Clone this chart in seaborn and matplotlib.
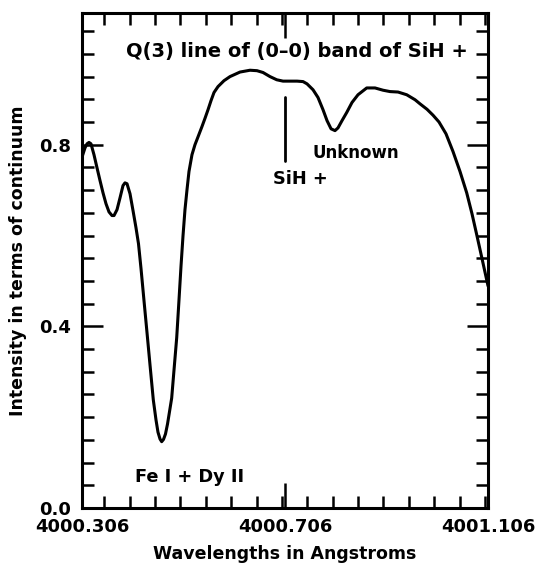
import numpy as np
import pandas as pd
import matplotlib
matplotlib.use('Agg')
import matplotlib.pyplot as plt
import seaborn as sns
from matplotlib.ticker import MultipleLocator

# spectrum (wavelength in Angstroms, intensity / continuum)
wavelength = [4000.3070, 4000.3119, 4000.3159, 4000.3198, 4000.3237, 4000.3296, 4000.3356,
              4000.3415, 4000.3474, 4000.3533, 4000.3592, 4000.3651, 4000.3691, 4000.3750,
              4000.3809, 4000.3868, 4000.3907, 4000.3947,
              4000.4006, 4000.4065, 4000.4124, 4000.4173, 4000.4223, 4000.4282, 4000.4341,
              4000.4400, 4000.4465, 4000.4518, 4000.4557, 4000.4597, 4000.4630, 4000.4666,
              4000.4705, 4000.4745, 4000.4784, 4000.4827, 4000.4873, 4000.4926, 4000.4971,
              4000.5011, 4000.5050, 4000.5089, 4000.5129, 4000.5168, 4000.5227, 4000.5286,
              4000.5345, 4000.5424, 4000.5483, 4000.5543, 4000.5602, 4000.5661, 4000.5740,
              4000.5858, 4000.5976, 4000.6173, 4000.6370, 4000.6508, 4000.6627, 4000.6764,
              4000.6897, 4000.7021, 4000.7159, 4000.7297, 4000.7415, 4000.7494, 4000.7612,
              4000.7710, 4000.7809, 4000.7888, 4000.7967, 4000.8045, 4000.8104, 4000.8183,
              4000.8276, 4000.8380, 4000.8498, 4000.8670, 4000.8833, 4000.8991, 4000.9129,
              4000.9287, 4000.9458, 4000.9622, 4000.9720, 4000.9858, 4000.9976, 4001.0094,
              4001.0232, 4001.0370, 4001.0508, 4001.0640, 4001.0744, 4001.0843, 4001.0942,
              4001.1060]
intensity = [0.776, 0.793, 0.802, 0.805, 0.802, 0.778, 0.749,
             0.721, 0.694, 0.670, 0.652, 0.644, 0.644, 0.657,
             0.683, 0.710, 0.716, 0.714,
             0.692, 0.655, 0.617, 0.582, 0.527, 0.456, 0.386,
             0.315, 0.238, 0.194, 0.167, 0.152, 0.146, 0.151,
             0.163, 0.185, 0.212, 0.242, 0.304, 0.375, 0.458,
             0.533, 0.599, 0.657, 0.701, 0.741, 0.778, 0.800,
             0.817, 0.840, 0.858, 0.877, 0.897, 0.915, 0.928,
             0.941, 0.950, 0.960, 0.964, 0.963, 0.959, 0.950,
             0.943, 0.940, 0.940, 0.940, 0.939, 0.934, 0.921,
             0.904, 0.877, 0.853, 0.835, 0.831, 0.837, 0.853,
             0.871, 0.893, 0.910, 0.925, 0.925, 0.920, 0.917,
             0.916, 0.910, 0.899, 0.890, 0.878, 0.865, 0.850,
             0.824, 0.785, 0.741, 0.694, 0.648, 0.599, 0.549,
             0.489]

x_ticks = [4000.306, 4000.706, 4001.106]
x_tick_labels = ['4000.306', '4000.706', '4001.106']
y_ticks = [0.0, 0.4, 0.8]
y_tick_labels = ['0.0', '0.4', '0.8']

# SiH+ marker line
sih_x = 4000.706
sih_y = [0.765, 0.905]

df = pd.DataFrame({'wl': wavelength, 'I': intensity})

sns.set_theme(style='ticks')
plt.rcParams['font.family'] = ['DejaVu Sans']
plt.rcParams['font.weight'] = 'bold'
plt.rcParams['text.color'] = 'black'
plt.rcParams['axes.labelcolor'] = 'black'
plt.rcParams['xtick.color'] = 'black'
plt.rcParams['ytick.color'] = 'black'

fig = plt.figure(figsize=(5.37, 5.66), dpi=100)
ax = fig.add_axes([0.1527, 0.1025, 0.7561, 0.8745])

sns.lineplot(data=df, x='wl', y='I', color='black', linewidth=2.2, ax=ax)
ax.lines[0].set_solid_joinstyle('round')
ax.plot([sih_x, sih_x], sih_y, color='black', linewidth=2.0)

ax.set_xlim(4000.306, 4001.106)
ax.set_ylim(0, 1.09)

ax.set_xticks(x_ticks)
ax.set_xticklabels(x_tick_labels)
ax.set_yticks(y_ticks)
ax.set_yticklabels(y_tick_labels)
ax.xaxis.set_minor_locator(MultipleLocator(0.05))
ax.yaxis.set_minor_locator(MultipleLocator(0.05))

ax.tick_params(axis='both', which='both', direction='in', top=True, right=True,
               color='black', labelcolor='black', width=1.8, labelsize=13)
ax.tick_params(axis='x', which='major', length=18, pad=7)
ax.tick_params(axis='y', which='major', length=15, pad=8)
ax.tick_params(axis='both', which='minor', length=8.5)
for lab in ax.get_xticklabels() + ax.get_yticklabels():
    lab.set_fontweight('bold')

for sp in ax.spines.values():
    sp.set_linewidth(2.2)
    sp.set_color('black')

ax.set_xlabel('Wavelengths in Angstroms', fontsize=12.5, fontweight='bold', color='black')
ax.set_ylabel('Intensity in terms of continuum', fontsize=12.5, fontweight='bold', color='black')
ax.xaxis.set_label_coords(0.5, -0.075)
ax.yaxis.set_label_coords(-0.135, 0.5)

ax.text(4001.066, 1.005, 'Q(3) line of (0\u20130) band of SiH +', ha='right', va='center',
        fontsize=14, fontweight='bold')
ax.text(4000.761, 0.782, 'Unknown', ha='left', va='center', fontsize=12, fontweight='bold')
ax.text(4000.682, 0.725, 'SiH +', ha='left', va='center', fontsize=12.8, fontweight='bold')
ax.text(4000.410, 0.068, 'Fe I + Dy II', ha='left', va='center', fontsize=12.8, fontweight='bold')

fig.savefig('out.png', dpi=100, facecolor='white')
